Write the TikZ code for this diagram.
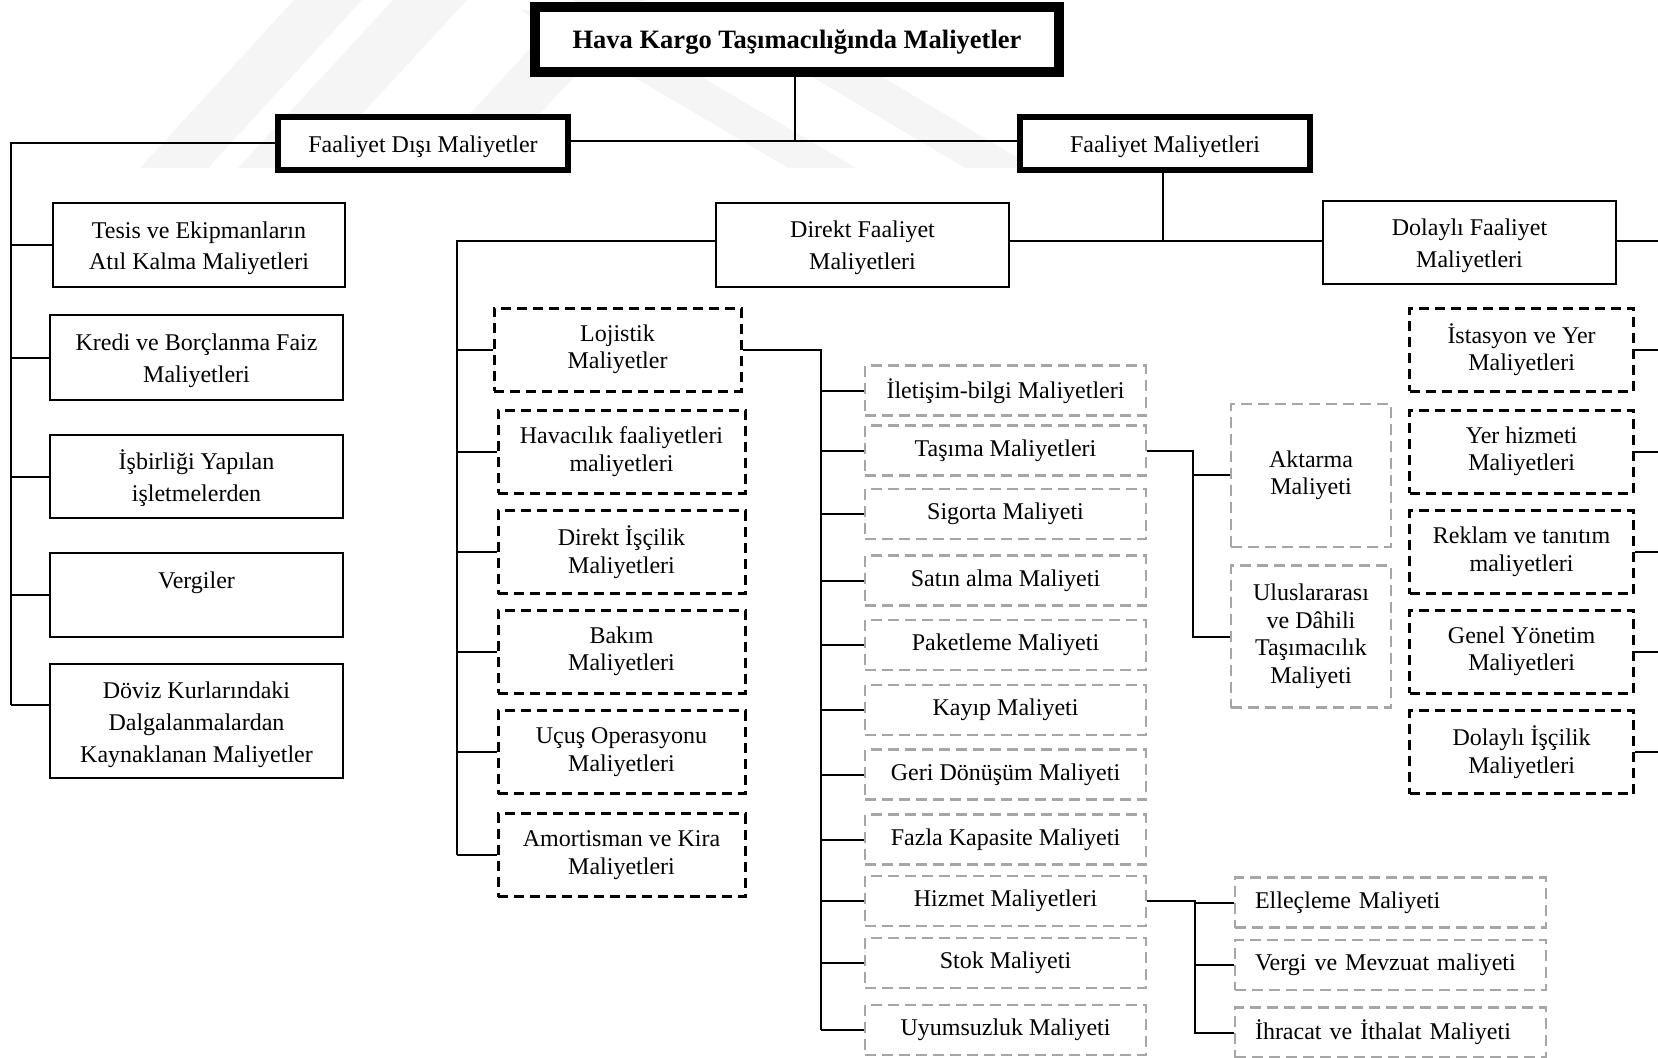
\documentclass[tikz,border=0pt]{standalone}
\usepackage{fontspec}
\setmainfont{Liberation Serif}
\definecolor{boxgray}{RGB}{166,166,166}
\definecolor{wmgray}{RGB}{245,245,245}
\begin{document}
\begin{tikzpicture}[x=1pt,y=-1pt,
  every node/.style={inner sep=0pt, align=center, font=\fontsize{24}{27.5}\selectfont},
  conn/.style={line width=2pt},
  titlebox/.style={draw, line width=9pt, fill=white, text height=17.6pt, text depth=0pt,
    font=\fontsize{26.5}{30}\selectfont\bfseries},
  heavybox/.style={draw, line width=6pt, fill=white, minimum width=290pt, minimum height=53pt,
    text height=18pt, text depth=0pt},
  solidbox/.style={draw, line width=2.5pt, fill=white, text height=49.6pt, text depth=0pt,
    font=\fontsize{24}{31.7}\selectfont},
  blackdash/.style={draw, line width=3pt, dash pattern=on 10pt off 6pt, fill=white,
    minimum height=83pt},
  graydash/.style={draw=boxgray, line width=2.5pt, dash pattern=on 11pt off 6pt, fill=white},
  midbox/.style={blackdash, minimum width=247pt},
  rightbox/.style={blackdash, minimum width=224pt},
  listbox/.style={graydash, minimum width=281pt, minimum height=50pt},
  leftlist/.style={graydash, minimum height=50pt, text width=271pt, inner xsep=20pt, align=left},
]
\useasboundingbox (0,0) rectangle (1658,1058);

% faint background bands
\fill[wmgray] (140,168) -- (208,168) -- (362,0) -- (294,0) -- cycle;
\fill[wmgray] (238,168) -- (312,168) -- (467,0) -- (393,0) -- cycle;
\fill[wmgray] (420,168) -- (490,168) -- (645,0) -- (575,0) -- cycle;
\fill[wmgray] (520,10) -- (588,10) -- (856,168) -- (788,168) -- cycle;
\fill[wmgray] (700,10) -- (770,10) -- (1035,168) -- (965,168) -- cycle;

% top level
\node[titlebox, minimum width=525pt, minimum height=66pt] (title) at (797,39.5)
  {Hava Kargo Taşımacılığında Maliyetler};
\draw[line width=2.5pt] ([shift={(9,9)}]title.north west) rectangle ([shift={(-9,-9)}]title.south east);

\node[heavybox] (fdm) at (423,143.3) {Faaliyet Dışı Maliyetler};
\node[heavybox] (fm) at (1165,143) {Faaliyet Maliyetleri};

\coordinate (j0) at (795,141);
\draw[conn] (title.south -| j0) -- (j0);
\draw[conn] (j0 -| fdm.east) -- (j0 -| fm.west);

% non-operating costs
\node[solidbox, minimum width=292pt, minimum height=84pt] (tes) at (199,245)
  {Tesis ve Ekipmanların\\Atıl Kalma Maliyetleri};
\node[solidbox, minimum width=293pt, minimum height=85pt] (kre) at (196.5,357.5)
  {Kredi ve Borçlanma Faiz\\Maliyetleri};
\node[solidbox, minimum width=293pt, minimum height=83pt] (isb) at (196.5,476.5)
  {İşbirliği Yapılan\\işletmelerden};
\node[solidbox, minimum width=293pt, minimum height=84pt] (verg) at (196.5,595)
  {Vergiler\\\mbox{}};
\node[solidbox, minimum width=293pt, minimum height=114pt, text height=82.3pt] (dov) at (196.5,721)
  {Döviz Kurlarındaki\\Dalgalanmalardan\\Kaynaklanan Maliyetler};

\coordinate (lb) at (10.6,705);
\draw[conn] (fdm.west) -| (lb);
\draw[conn] (tes.west) -- (tes.west -| lb);
\draw[conn] (kre.west) -- (kre.west -| lb);
\draw[conn] (isb.west) -- (isb.west -| lb);
\draw[conn] (verg.west) -- (verg.west -| lb);
\draw[conn] ([yshift=16pt]dov.west) -- (lb);

% operating costs
\node[solidbox, minimum width=293pt, minimum height=84pt] (df) at (862.5,244.8)
  {Direkt Faaliyet\\Maliyetleri};
\node[solidbox, minimum width=293pt, minimum height=83pt] (dlf) at (1469.5,242.7)
  {Dolaylı Faaliyet\\Maliyetleri};
\coordinate (j1) at (1163,241);
\coordinate (re) at (1658,241);
\draw[conn] (fm.south -| j1) -- (j1);
\draw[conn] (j1 -| df.east) -- (j1 -| dlf.west);
\draw[conn] (re -| dlf.east) -- (re);

% direct operating costs
\node[midbox] (loj) at (617.5,349.5) {Lojistik\\Maliyetler};
\node[midbox] (hav) at (621.5,451.5) {Havacılık faaliyetleri\\maliyetleri};
\node[midbox] (dis) at (621.5,552) {Direkt İşçilik\\Maliyetleri};
\node[midbox] (bak) at (621.5,651.5) {Bakım\\Maliyetleri};
\node[midbox] (ucu) at (621.5,752) {Uçuş Operasyonu\\Maliyetleri};
\node[midbox] (amo) at (621.5,855) {Amortisman ve Kira\\Maliyetleri};

\coordinate (db) at (457,855);
\draw[conn] (j1 -| df.west) -| (db);
\foreach \n in {loj,hav,dis,bak,ucu,amo}
  \draw[conn] (\n.west) -- (\n.west -| db);

% logistics costs
\node[listbox] (ile) at (1005.5,390.7) {İletişim-bilgi Maliyetleri};
\node[listbox] (tas) at (1005.5,450.5) {Taşıma Maliyetleri};
\node[listbox] (sig) at (1005.5,514) {Sigorta Maliyeti};
\node[listbox] (sat) at (1005.5,580.5) {Satın alma Maliyeti};
\node[listbox] (pak) at (1005.5,645) {Paketleme Maliyeti};
\node[listbox] (kay) at (1005.5,710) {Kayıp Maliyeti};
\node[listbox] (ger) at (1005.5,774.5) {Geri Dönüşüm Maliyeti};
\node[listbox] (faz) at (1005.5,839.5) {Fazla Kapasite Maliyeti};
\node[listbox] (hiz) at (1005.5,901) {Hizmet Maliyetleri};
\node[listbox] (sto) at (1005.5,963) {Stok Maliyeti};
\node[listbox] (uyu) at (1005.5,1030) {Uyumsuzluk Maliyeti};

\coordinate (lgb) at (820.5,1030);
\draw[conn] (loj.east) -| (lgb);
\foreach \n in {ile,tas,sig,sat,pak,kay,ger,faz,hiz,sto,uyu}
  \draw[conn] (\n.west) -- (\n.west -| lgb);

% transport costs
\node[graydash, minimum width=160pt, minimum height=143pt] (akt) at (1311,475.4)
  {Aktarma\\Maliyeti};
\node[graydash, minimum width=160pt, minimum height=142pt] (ulu) at (1311,636.5)
  {Uluslararası\\ve Dâhili\\Taşımacılık\\Maliyeti};
\coordinate (tb) at (1193,636.5);
\draw[conn] (tas.east) -| (tb) -- (ulu.west);
\draw[conn] (akt.west) -- (akt.west -| tb);

% service costs
\node[leftlist] (ell) at (1390.5,902.5) {Elleçleme Maliyeti};
\node[leftlist] (vmz) at (1390.5,965) {Vergi ve Mevzuat maliyeti};
\node[leftlist] (ihr) at (1390.5,1032.5) {İhracat ve İthalat Maliyeti};
\coordinate (hb) at (1195,1032.5);
\draw[conn] (hiz.east) -| (hb) -- (ihr.west);
\draw[conn] (ell.west) -- (ell.west -| hb);
\draw[conn] (vmz.west) -- (vmz.west -| hb);

% indirect operating costs
\node[rightbox] (ist) at (1521.6,349.5) {İstasyon ve Yer\\Maliyetleri};
\node[rightbox] (yer) at (1521.6,451.5) {Yer hizmeti\\Maliyetleri};
\node[rightbox] (rek) at (1521.6,552) {Reklam ve tanıtım\\maliyetleri};
\node[rightbox] (gen) at (1521.6,651.5) {Genel Yönetim\\Maliyetleri};
\node[rightbox] (dis2) at (1521.6,752) {Dolaylı İşçilik\\Maliyetleri};
\foreach \n in {ist,yer,rek,gen,dis2}
  \draw[conn] (\n.east) -- (\n.east -| re);
\end{tikzpicture}
\end{document}
